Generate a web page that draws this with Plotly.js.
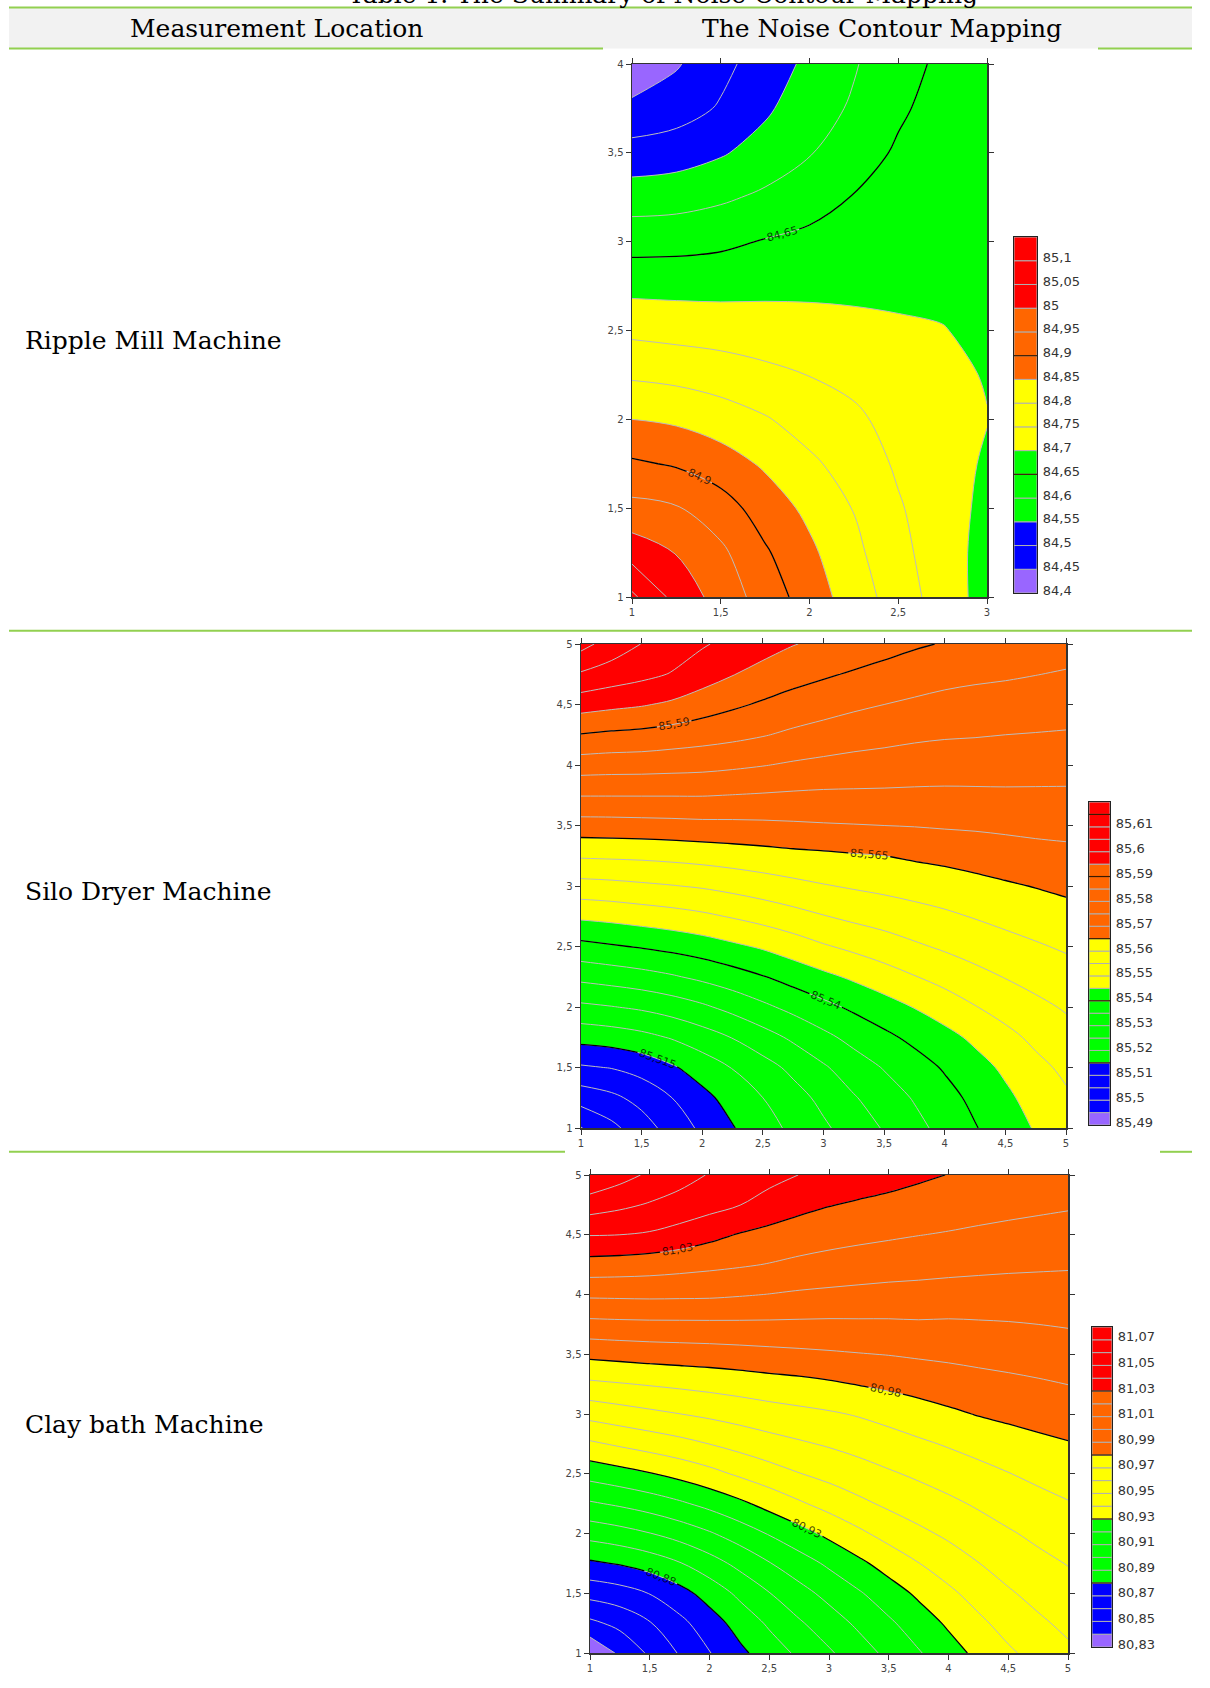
<!DOCTYPE html>
<html>
<head>
<meta charset="utf-8">
<script src="https://cdn.plot.ly/plotly-3.0.1.min.js"></script>
<style>html,body{margin:0;padding:0;background:#fff}#chart{width:1210px;height:1688px}</style>
</head>
<body>
<div id="chart"></div>
<script>
// ---------- shared ----------
const bandColors = ['#9966ff', '#0000ff', '#00ff00', '#ffff00', '#ff6600', '#ff0000'];
const rowLabels = ['Ripple Mill Machine', 'Silo Dryer Machine', 'Clay bath Machine'];
const headerLabels = ['Measurement Location', 'The Noise Contour Mapping'];
const tableTitle = 'Table 1. The Summary of Noise Contour Mapping';

// ---------- Ripple Mill Machine ----------
const rippleX = [1, 1.25, 1.5, 1.75, 2, 2.25, 2.5, 2.75, 3];
const rippleY = [1, 1.25, 1.5, 1.75, 2, 2.25, 2.5, 2.75, 3, 3.25, 3.5, 3.75, 4];
const rippleZ = [
  [85.11, 85.033, 84.98, 84.928, 84.876, 84.826, 84.776, 84.727, 84.68],
  [85.029, 84.998, 84.96, 84.906, 84.86, 84.812, 84.765, 84.722, 84.683],
  [84.964, 84.954, 84.922, 84.877, 84.838, 84.798, 84.755, 84.72, 84.689],
  [84.907, 84.895, 84.873, 84.843, 84.809, 84.779, 84.743, 84.714, 84.696],
  [84.85, 84.842, 84.825, 84.804, 84.779, 84.759, 84.733, 84.714, 84.701],
  [84.793, 84.786, 84.775, 84.762, 84.749, 84.737, 84.72, 84.708, 84.698],
  [84.739, 84.733, 84.729, 84.723, 84.719, 84.712, 84.705, 84.701, 84.694],
  [84.685, 84.684, 84.684, 84.688, 84.689, 84.69, 84.692, 84.694, 84.69],
  [84.631, 84.633, 84.64, 84.653, 84.662, 84.671, 84.68, 84.687, 84.686],
  [84.576, 84.58, 84.592, 84.609, 84.63, 84.652, 84.668, 84.68, 84.682],
  [84.519, 84.527, 84.545, 84.57, 84.597, 84.629, 84.656, 84.674, 84.678],
  [84.463, 84.478, 84.505, 84.542, 84.579, 84.606, 84.643, 84.667, 84.674],
  [84.41, 84.445, 84.486, 84.524, 84.561, 84.596, 84.631, 84.66, 84.67]
];
const rippleRange = [84.4, 85.15];
const rippleStep = [0.05];
const rippleBreaks = [84.45, 84.55, 84.7, 84.85, 85.0];
const rippleMajor = [84.65, 84.9];
const rippleBarMajor = [84.65, 84.9];
const rippleBarTicks = [84.4, 84.45, 84.5, 84.55, 84.6, 84.65, 84.7, 84.75, 84.8, 84.85, 84.9, 84.95, 85, 85.05, 85.1];
const rippleBarLabels = ['84,4', '84,45', '84,5', '84,55', '84,6', '84,65', '84,7', '84,75', '84,8', '84,85', '84,9', '84,95', '85', '85,05', '85,1'];
const rippleXTicks = [1, 1.5, 2, 2.5, 3];
const rippleXLabels = ['1', '1,5', '2', '2,5', '3'];
const rippleYTicks = [1, 1.5, 2, 2.5, 3, 3.5, 4];
const rippleYLabels = ['1', '1,5', '2', '2,5', '3', '3,5', '4'];

// ---------- Silo Dryer Machine ----------
const siloX = [1, 1.25, 1.5, 1.75, 2, 2.25, 2.5, 2.75, 3, 3.25, 3.5, 3.75, 4, 4.25, 4.5, 4.75, 5];
const siloY = [1, 1.25, 1.5, 1.75, 2, 2.25, 2.5, 2.75, 3, 3.25, 3.5, 3.75, 4, 4.25, 4.5, 4.75, 5];
const siloZ = [
  [85.4948, 85.4987, 85.5028, 85.5070, 85.5110, 85.5147, 85.5180, 85.5211, 85.5242, 85.5273, 85.5304, 85.5335, 85.5366, 85.5397, 85.5426, 85.5454, 85.5480],
  [85.5021, 85.5039, 85.5066, 85.5100, 85.5136, 85.5169, 85.5200, 85.5231, 85.5263, 85.5296, 85.5326, 85.5354, 85.5383, 85.5412, 85.5440, 85.5469, 85.5493],
  [85.5094, 85.5102, 85.5119, 85.5144, 85.5173, 85.5202, 85.5231, 85.5262, 85.5294, 85.5326, 85.5353, 85.5379, 85.5405, 85.5432, 85.5459, 85.5487, 85.5510],
  [85.5167, 85.5174, 85.5186, 85.5204, 85.5227, 85.5252, 85.5280, 85.5309, 85.5338, 85.5365, 85.5389, 85.5412, 85.5435, 85.5460, 85.5486, 85.5511, 85.5532],
  [85.5240, 85.5248, 85.5258, 85.5273, 85.5292, 85.5315, 85.5340, 85.5364, 85.5387, 85.5409, 85.5430, 85.5452, 85.5474, 85.5498, 85.5519, 85.5538, 85.5555],
  [85.5313, 85.5322, 85.5332, 85.5345, 85.5361, 85.5379, 85.5398, 85.5419, 85.5439, 85.5458, 85.5478, 85.5498, 85.5517, 85.5536, 85.5552, 85.5567, 85.5580],
  [85.5386, 85.5395, 85.5404, 85.5414, 85.5426, 85.5441, 85.5456, 85.5475, 85.5495, 85.5511, 85.5527, 85.5543, 85.5557, 85.5570, 85.5583, 85.5595, 85.5606],
  [85.5459, 85.5465, 85.5473, 85.5481, 85.5491, 85.5504, 85.5518, 85.5533, 85.5548, 85.5561, 85.5571, 85.5582, 85.5592, 85.5603, 85.5614, 85.5623, 85.5633],
  [85.5532, 85.5536, 85.5542, 85.5548, 85.5555, 85.5565, 85.5576, 85.5587, 85.5597, 85.5605, 85.5612, 85.5619, 85.5626, 85.5635, 85.5644, 85.5652, 85.5660],
  [85.5606, 85.5608, 85.5610, 85.5614, 85.5619, 85.5625, 85.5631, 85.5637, 85.5641, 85.5646, 85.5650, 85.5657, 85.5663, 85.5670, 85.5677, 85.5683, 85.5687],
  [85.5679, 85.5680, 85.5682, 85.5684, 85.5687, 85.5688, 85.5690, 85.5693, 85.5696, 85.5698, 85.5700, 85.5702, 85.5705, 85.5707, 85.5710, 85.5713, 85.5715],
  [85.5752, 85.5752, 85.5752, 85.5752, 85.5752, 85.5749, 85.5746, 85.5743, 85.5741, 85.5741, 85.5741, 85.5740, 85.5740, 85.5741, 85.5742, 85.5742, 85.5742],
  [85.5825, 85.5822, 85.5821, 85.5818, 85.5815, 85.5809, 85.5802, 85.5794, 85.5788, 85.5783, 85.5779, 85.5776, 85.5773, 85.5772, 85.5771, 85.5770, 85.5769],
  [85.5898, 85.5891, 85.5887, 85.5879, 85.5871, 85.5863, 85.5853, 85.5841, 85.5831, 85.5822, 85.5816, 85.5809, 85.5805, 85.5803, 85.5800, 85.5798, 85.5796],
  [85.5971, 85.5962, 85.5954, 85.5942, 85.5924, 85.5908, 85.5894, 85.5881, 85.5870, 85.5859, 85.5850, 85.5842, 85.5835, 85.5831, 85.5828, 85.5825, 85.5821],
  [85.6044, 85.6027, 85.6013, 85.5997, 85.5974, 85.5952, 85.5934, 85.5918, 85.5906, 85.5895, 85.5885, 85.5875, 85.5866, 85.5860, 85.5856, 85.5851, 85.5846],
  [85.6117, 85.6078, 85.6049, 85.6027, 85.6005, 85.5986, 85.5969, 85.5952, 85.5940, 85.5929, 85.5917, 85.5906, 85.5897, 85.5890, 85.5884, 85.5877, 85.5870]
];
const siloRange = [85.49, 85.62];
const siloStep = [0.005];
const siloBreaks = [85.495, 85.515, 85.545, 85.565, 85.595];
const siloMajor = [85.515, 85.54, 85.565, 85.59];
const siloBarMajor = [85.515, 85.54, 85.565, 85.59, 85.615];
const siloBarTicks = [85.49, 85.5, 85.51, 85.52, 85.53, 85.54, 85.55, 85.56, 85.57, 85.58, 85.59, 85.6, 85.61];
const siloBarLabels = ['85,49', '85,5', '85,51', '85,52', '85,53', '85,54', '85,55', '85,56', '85,57', '85,58', '85,59', '85,6', '85,61'];
const squareTicks = [1, 1.5, 2, 2.5, 3, 3.5, 4, 4.5, 5];
const squareLabels = ['1', '1,5', '2', '2,5', '3', '3,5', '4', '4,5', '5'];

// ---------- Clay bath Machine ----------
const clayX = [1, 1.25, 1.5, 1.75, 2, 2.25, 2.5, 2.75, 3, 3.25, 3.5, 3.75, 4, 4.25, 4.5, 4.75, 5];
const clayY = [1, 1.25, 1.5, 1.75, 2, 2.25, 2.5, 2.75, 3, 3.25, 3.5, 3.75, 4, 4.25, 4.5, 4.75, 5];
const clayZ = [
  [80.8311, 80.8418, 80.8516, 80.8608, 80.8696, 80.8777, 80.8849, 80.8919, 80.8987, 80.9056, 80.9124, 80.9192, 80.9259, 80.9324, 80.9384, 80.9435, 80.9480],
  [80.8478, 80.8528, 80.8594, 80.8673, 80.8755, 80.8837, 80.8915, 80.8988, 80.9054, 80.9119, 80.9184, 80.9250, 80.9315, 80.9379, 80.9437, 80.9483, 80.9523],
  [80.8634, 80.8659, 80.8703, 80.8765, 80.8840, 80.8921, 80.8997, 80.9066, 80.9129, 80.9190, 80.9254, 80.9318, 80.9380, 80.9438, 80.9489, 80.9530, 80.9563],
  [80.8784, 80.8808, 80.8844, 80.8894, 80.8958, 80.9027, 80.9095, 80.9156, 80.9217, 80.9279, 80.9341, 80.9398, 80.9450, 80.9498, 80.9540, 80.9575, 80.9604],
  [80.8937, 80.8963, 80.8997, 80.9040, 80.9090, 80.9147, 80.9207, 80.9265, 80.9323, 80.9381, 80.9435, 80.9479, 80.9518, 80.9556, 80.9590, 80.9621, 80.9649],
  [80.9088, 80.9115, 80.9147, 80.9185, 80.9229, 80.9279, 80.9334, 80.9387, 80.9435, 80.9479, 80.9518, 80.9551, 80.9581, 80.9612, 80.9642, 80.9670, 80.9694],
  [80.9237, 80.9265, 80.9295, 80.9330, 80.9370, 80.9415, 80.9458, 80.9497, 80.9529, 80.9560, 80.9589, 80.9616, 80.9643, 80.9670, 80.9697, 80.9722, 80.9744],
  [80.9384, 80.9414, 80.9442, 80.9470, 80.9501, 80.9534, 80.9564, 80.9588, 80.9610, 80.9633, 80.9658, 80.9684, 80.9709, 80.9734, 80.9758, 80.9778, 80.9794],
  [80.9533, 80.9557, 80.9579, 80.9599, 80.9619, 80.9639, 80.9658, 80.9674, 80.9689, 80.9708, 80.9732, 80.9758, 80.9783, 80.9805, 80.9821, 80.9835, 80.9848],
  [80.9681, 80.9694, 80.9707, 80.9719, 80.9731, 80.9744, 80.9759, 80.9771, 80.9786, 80.9804, 80.9821, 80.9837, 80.9853, 80.9866, 80.9878, 80.9889, 80.9901],
  [80.9825, 80.9834, 80.9843, 80.9849, 80.9855, 80.9863, 80.9872, 80.9880, 80.9888, 80.9896, 80.9903, 80.9912, 80.9919, 80.9928, 80.9935, 80.9944, 80.9954],
  [80.9972, 80.9977, 80.9980, 80.9981, 80.9982, 80.9983, 80.9983, 80.9982, 80.9981, 80.9983, 80.9984, 80.9988, 80.9986, 80.9990, 80.9994, 81.0000, 81.0007],
  [81.0117, 81.0119, 81.0121, 81.0119, 81.0117, 81.0108, 81.0098, 81.0087, 81.0080, 81.0074, 81.0069, 81.0066, 81.0061, 81.0058, 81.0057, 81.0057, 81.0059],
  [81.0262, 81.0256, 81.0247, 81.0235, 81.0222, 81.0210, 81.0196, 81.0179, 81.0165, 81.0154, 81.0144, 81.0137, 81.0130, 81.0124, 81.0118, 81.0114, 81.0110],
  [81.0404, 81.0400, 81.0389, 81.0363, 81.0327, 81.0294, 81.0270, 81.0252, 81.0237, 81.0224, 81.0213, 81.0202, 81.0193, 81.0183, 81.0174, 81.0166, 81.0160],
  [81.0547, 81.0520, 81.0491, 81.0462, 81.0434, 81.0402, 81.0363, 81.0327, 81.0304, 81.0287, 81.0273, 81.0260, 81.0250, 81.0238, 81.0228, 81.0219, 81.0210],
  [81.0693, 81.0636, 81.0584, 81.0538, 81.0494, 81.0462, 81.0430, 81.0399, 81.0378, 81.0358, 81.0337, 81.0316, 81.0298, 81.0289, 81.0279, 81.0270, 81.0260]
];
const clayRange = [80.83, 81.08];
const clayStep = [0.01];
const clayBreaks = [80.84, 80.88, 80.93, 80.98, 81.03];
const clayMajor = [80.88, 80.93, 80.98, 81.03];
const clayBarMajor = [80.88, 80.93, 80.98, 81.03];
const clayBarTicks = [80.83, 80.85, 80.87, 80.89, 80.91, 80.93, 80.95, 80.97, 80.99, 81.01, 81.03, 81.05, 81.07];
const clayBarLabels = ['80,83', '80,85', '80,87', '80,89', '80,91', '80,93', '80,95', '80,97', '80,99', '81,01', '81,03', '81,05', '81,07'];

// ---------- helpers (layout only) ----------
const W = 1210, H = 1688;
const px = v => v / W;
const py = v => 1 - v / H;

function bandInfo(range, step, breaks) {
  const n = Math.round((range[1] - range[0]) / step);
  const lows = [], sizes = [], cols = [];
  for (let k = 0; k < n; k++) {
    const lo = range[0] + k * step;
    const mid = lo + step / 2;
    let ci = 0;
    while (ci < breaks.length && mid > breaks[ci]) ci++;
    lows.push(lo); sizes.push(step); cols.push(bandColors[ci]);
  }
  return {n, lows, sizes, cols};
}

function makeTraces(x, y, z, range, step, breaks, majors, barMajors, ax, bars) {
  const b = bandInfo(range, step, breaks);
  const nc = b.n - 1; // number of inner contour levels
  const cs = [];
  for (let k = 0; k <= nc; k++) {
    cs.push([Math.max(0, (k - 0.5) / nc), b.cols[k]]);
    cs.push([Math.min(1, (k + 0.5) / nc), b.cols[k]]);
  }
  const fill = {
    type: 'contour', x: x, y: y, z: z, xaxis: ax[0], yaxis: ax[1],
    autocontour: false,
    contours: {start: range[0] + step, end: range[1] - step, size: step, coloring: 'fill', showlines: true},
    colorscale: cs, showscale: false,
    line: {color: '#bcbcbc', width: 1, smoothing: 1},
    hoverinfo: 'skip'
  };
  const major = {
    type: 'contour', x: x, y: y, z: z, xaxis: ax[0], yaxis: ax[1],
    autocontour: false,
    contours: {start: majors[0], end: majors[majors.length - 1], size: majors[1] - majors[0],
      coloring: 'none', showlabels: true,
      labelfont: {family: 'DejaVu Sans', size: 11, color: 'rgba(0,0,0,0.75)'}, labelformat: '.3~f'},
    line: {color: '#000000', width: 1.3, smoothing: 1},
    showscale: false, hoverinfo: 'skip'
  };
  const bar = {
    type: 'bar', x: b.lows.map(() => 0), y: b.sizes, base: b.lows, width: 1,
    xaxis: bars[0], yaxis: bars[1],
    marker: {color: b.cols, line: {color: '#b0b0b0', width: 1}},
    hoverinfo: 'skip'
  };
  const lx = [], ly = [];
  barMajors.forEach(m => { lx.push(-0.5, 0.5, null); ly.push(m, m, null); });
  const blk = {
    type: 'scatter', mode: 'lines', x: lx, y: ly, xaxis: bars[0], yaxis: bars[1],
    line: {color: '#3a1a00', width: 1.2}, hoverinfo: 'skip', cliponaxis: true
  };
  return [fill, major, bar, blk];
}

const traces = [].concat(
  makeTraces(rippleX, rippleY, rippleZ, rippleRange, rippleStep[0], rippleBreaks, rippleMajor, rippleBarMajor, ['x', 'y'], ['x4', 'y4']),
  makeTraces(siloX, siloY, siloZ, siloRange, siloStep[0], siloBreaks, siloMajor, siloBarMajor, ['x2', 'y2'], ['x5', 'y5']),
  makeTraces(clayX, clayY, clayZ, clayRange, clayStep[0], clayBreaks, clayMajor, clayBarMajor, ['x3', 'y3'], ['x6', 'y6'])
);

const axStyle = {
  showgrid: false, zeroline: false, showline: true, linecolor: '#333', linewidth: 1.5,
  mirror: 'ticks', ticks: 'outside', ticklen: 5, tickwidth: 1, tickcolor: '#333',
  tickfont: {family: 'DejaVu Sans', size: 10, color: '#444'}, fixedrange: true
};
const cbX = {
  range: [-0.5, 0.5], showgrid: false, zeroline: false, showticklabels: false, ticks: '',
  showline: true, mirror: true, linecolor: '#222', linewidth: 1.2, fixedrange: true
};
const cbY = {
  side: 'right', showgrid: false, zeroline: false, ticks: '', showline: true, mirror: true,
  linecolor: '#222', linewidth: 1.2, fixedrange: true, ticklabelstandoff: 2, ticklabelshift: -3,
  tickfont: {family: 'DejaVu Sans', size: 13, color: '#333'}
};

function xa(d, rng, tv, tt, anchor) {
  return Object.assign({}, axStyle, {domain: d, range: rng, tickvals: tv, ticktext: tt, anchor: anchor});
}

const layout = {
  width: W, height: H, margin: {l: 0, r: 0, t: 0, b: 0},
  paper_bgcolor: '#ffffff', plot_bgcolor: '#ffffff', showlegend: false,
  separators: ', ', bargap: 0,
  font: {family: 'DejaVu Sans', color: '#333'},
  xaxis: xa([px(632), px(987)], [1, 3], rippleXTicks, rippleXLabels, 'y'),
  yaxis: xa([py(597), py(64)], [1, 4], rippleYTicks, rippleYLabels, 'x'),
  xaxis2: xa([px(581), px(1066)], [1, 5], squareTicks, squareLabels, 'y2'),
  yaxis2: xa([py(1128), py(644)], [1, 5], squareTicks, squareLabels, 'x2'),
  xaxis3: xa([px(590), px(1068)], [1, 5], squareTicks, squareLabels, 'y3'),
  yaxis3: xa([py(1653), py(1175)], [1, 5], squareTicks, squareLabels, 'x3'),
  xaxis4: Object.assign({}, cbX, {domain: [px(1014), px(1037)], anchor: 'y4'}),
  yaxis4: Object.assign({}, cbY, {domain: [py(593), py(237)], range: rippleRange, anchor: 'x4', tickvals: rippleBarTicks, ticktext: rippleBarLabels}),
  xaxis5: Object.assign({}, cbX, {domain: [px(1089), px(1110)], anchor: 'y5'}),
  yaxis5: Object.assign({}, cbY, {domain: [py(1125), py(802)], range: siloRange, anchor: 'x5', tickvals: siloBarTicks, ticktext: siloBarLabels}),
  xaxis6: Object.assign({}, cbX, {domain: [px(1092), px(1112)], anchor: 'y6'}),
  yaxis6: Object.assign({}, cbY, {domain: [py(1647), py(1327)], range: clayRange, anchor: 'x6', tickvals: clayBarTicks, ticktext: clayBarLabels}),
  shapes: [
    {type: 'rect', xref: 'paper', yref: 'paper', x0: px(9), x1: px(1192), y0: py(48.5), y1: py(7.5), fillcolor: '#f2f2f2', line: {width: 0}, layer: 'below'},
    {type: 'line', xref: 'paper', yref: 'paper', x0: px(9), x1: px(1192), y0: py(7.5), y1: py(7.5), line: {color: '#92d050', width: 2}},
    {type: 'line', xref: 'paper', yref: 'paper', x0: px(9), x1: px(603), y0: py(48.5), y1: py(48.5), line: {color: '#92d050', width: 2}},
    {type: 'line', xref: 'paper', yref: 'paper', x0: px(1098), x1: px(1192), y0: py(48.5), y1: py(48.5), line: {color: '#92d050', width: 2}},
    {type: 'line', xref: 'paper', yref: 'paper', x0: px(9), x1: px(1192), y0: py(630.7), y1: py(630.7), line: {color: '#92d050', width: 2}},
    {type: 'line', xref: 'paper', yref: 'paper', x0: px(9), x1: px(565), y0: py(1151.8), y1: py(1151.8), line: {color: '#92d050', width: 2}},
    {type: 'line', xref: 'paper', yref: 'paper', x0: px(1160), x1: px(1192), y0: py(1151.8), y1: py(1151.8), line: {color: '#92d050', width: 2}}
  ],
  annotations: [
    {text: tableTitle, xref: 'paper', yref: 'paper', x: px(663), y: py(-5), xanchor: 'center', yanchor: 'middle', showarrow: false, font: {family: 'DejaVu Serif', size: 25, color: '#000'}},
    {text: headerLabels[0], xref: 'paper', yref: 'paper', x: px(276), y: py(28), xanchor: 'center', yanchor: 'middle', showarrow: false, font: {family: 'DejaVu Serif', size: 25, color: '#000'}},
    {text: headerLabels[1], xref: 'paper', yref: 'paper', x: px(882), y: py(28), xanchor: 'center', yanchor: 'middle', showarrow: false, font: {family: 'DejaVu Serif', size: 25, color: '#000'}},
    {text: rowLabels[0], xref: 'paper', yref: 'paper', x: px(23), y: py(341), xanchor: 'left', yanchor: 'middle', showarrow: false, font: {family: 'DejaVu Serif', size: 25, color: '#000'}},
    {text: rowLabels[1], xref: 'paper', yref: 'paper', x: px(23), y: py(892), xanchor: 'left', yanchor: 'middle', showarrow: false, font: {family: 'DejaVu Serif', size: 25, color: '#000'}},
    {text: rowLabels[2], xref: 'paper', yref: 'paper', x: px(23), y: py(1424), xanchor: 'left', yanchor: 'middle', showarrow: false, font: {family: 'DejaVu Serif', size: 25, color: '#000'}}
  ]
};

Plotly.newPlot('chart', traces, layout, {displayModeBar: false, staticPlot: true});
</script>
</body>
</html>
